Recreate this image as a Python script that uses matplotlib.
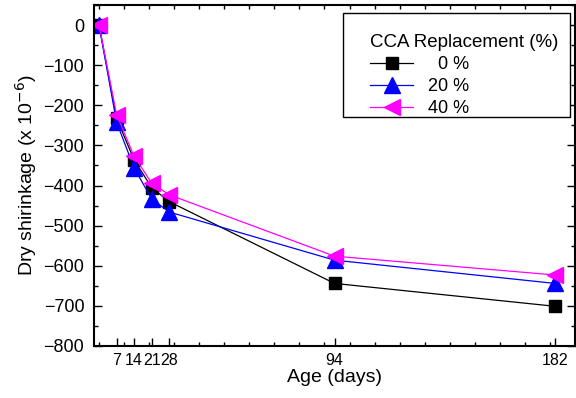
import numpy as np
import matplotlib
matplotlib.use("Agg")
import matplotlib.pyplot as plt
from matplotlib.patches import Rectangle
from matplotlib.ticker import MultipleLocator, FixedLocator

plt.rcParams['font.family'] = ['Liberation Sans', 'DejaVu Sans']

# age in days
age = [0, 7, 14, 21, 28, 94, 182]
# dry shrinkage (x 10^-6) per CCA replacement level
cca_0 = [0, -232, -336, -405, -440, -644, -701]
cca_20 = [0, -242, -356, -433, -466, -586, -644]
cca_40 = [0, -223, -327, -394, -423, -576, -623]
xtick_days = [7, 14, 21, 28, 94, 182]

W, H = 576, 398
fig = plt.figure(figsize=(W / 100, H / 100), dpi=100)
ax = fig.add_axes([94 / W, 1 - 346 / H, (575 - 94) / W, (346 - 5) / H])

ax.plot(age, cca_0, 's-', color='black', lw=0.9, ms=8, mec='black', label='  0 %')
ax.plot(age, cca_20, '^-', color='blue', lw=0.9, ms=11, mec='blue', label='20 %')
ax.plot(age, cca_40, '<-', color='magenta', lw=0.9, ms=11, mec='magenta', label='40 %')

ax.set_xlim(-2, 190)
ax.set_ylim(-800, 50)
ax.xaxis.set_major_locator(FixedLocator(xtick_days))
ax.xaxis.set_minor_locator(MultipleLocator(10))
ax.yaxis.set_major_locator(MultipleLocator(100))
ax.yaxis.set_minor_locator(MultipleLocator(50))
ax.tick_params(which='both', direction='in', right=True, labelsize=13, width=1.0)
ax.tick_params(which='major', length=6)
ax.tick_params(which='minor', length=3, top=True)
ax.tick_params(axis='x', which='major', top=False, pad=5, labelsize=11.5)
ax.tick_params(axis='y', pad=7)
for s in ax.spines.values():
    s.set_linewidth(1.5)

ax.set_xlabel('Age (days)', fontsize=14, labelpad=1)
ax.set_ylabel('Dry shirinkage (x 10$^{-6}$)', fontsize=14, labelpad=3)

# legend box drawn separately so the empty band above the title matches
box = Rectangle((343 / W, 1 - 117 / H), 227 / W, 104 / H,
                transform=fig.transFigure, facecolor='white',
                edgecolor='black', lw=1.0, zorder=4.5, clip_on=False)
ax.add_artist(box)
leg = ax.legend(title='CCA Replacement (%)', loc='upper left',
                bbox_to_anchor=(370 / W, 1 - 34 / H), bbox_transform=fig.transFigure,
                fontsize=13, title_fontsize=13.5, frameon=False, alignment='left',
                borderpad=0, labelspacing=0.28, handlelength=2.4,
                handletextpad=0.8, borderaxespad=0)
leg.set_zorder(6)

fig.savefig('out.png', dpi=100)
